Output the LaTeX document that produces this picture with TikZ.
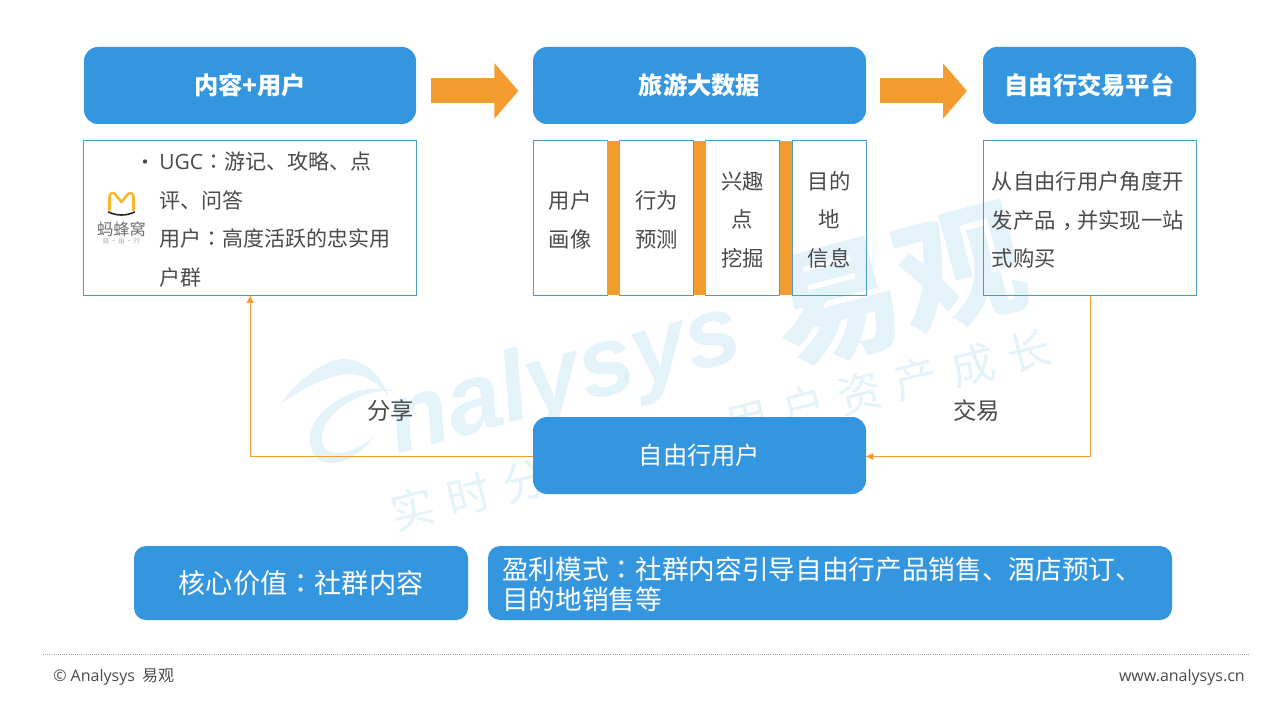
\documentclass[tikz,border=0pt]{standalone}
\usepackage{fontspec}
\setmainfont{Noto Sans CJK SC}
\newfontfamily\tcfont{Noto Sans CJK TC}
\newfontfamily\latinfoot{Open Sans}
\newfontfamily\wmfont{Liberation Sans}
\usetikzlibrary{arrows.meta}
\definecolor{bluefill}{HTML}{3596E0}
\definecolor{orangefill}{HTML}{F49C30}
\definecolor{edgeblue}{HTML}{4A9AC8}
\definecolor{bodytext}{HTML}{4A4A4A}
\definecolor{wm}{HTML}{E4F2FA}
\definecolor{logoyellow}{HTML}{F5B82E}
\newcommand{\cc}{{\tcfont ：}}
\newcommand{\dn}[1]{\raisebox{-0.75pt}{#1}}
\tikzset{
  sz/.style 2 args={minimum width=#1*0.75pt,minimum height=#2*0.75pt,inner sep=0pt,outer sep=0pt},
  hdr/.style={fill=bluefill,rounded corners=10.5pt,text=white,font=\bfseries\fontsize{18.2}{22}\selectfont},
  usr/.style={fill=bluefill,rounded corners=10.5pt,text=white,font=\fontsize{18.2}{22}\selectfont},
  bottombox/.style={fill=bluefill,rounded corners=9pt,text=white},
  frame/.style={draw=edgeblue,line width=0.75pt},
  celltext/.style={text=bodytext,inner sep=0pt,align=center,font=\fontsize{16}{28.9}\selectfont},
  bigarrow/.style={draw=orangefill,line width=18.75pt,-{Triangle[width=40.5pt,length=18pt]},shorten >=10.9pt,shorten <=11.2pt},
  strip/.style={draw=orangefill,line width=116pt},
  conn/.style={draw=orangefill,line width=0.75pt,-{Triangle[width=5pt,length=5.5pt]}},
  wmtext/.style={text=wm,inner sep=0pt},
}
\begin{document}
\begin{tikzpicture}[x=0.75pt,y=-0.75pt]
\useasboundingbox (0,0) rectangle (1280,720);
\fill[white] (0,0) rectangle (1280,720);
% watermark
\fill[wm] (280,404) .. controls (305,372) and (335,352) .. (355,361) .. controls (372,366) and (383,380) .. (388,396) .. controls (375,378) and (358,372) .. (340,375) .. controls (318,380) and (298,392) .. cycle;
\fill[wm] (393,391) .. controls (350,378) and (300,420) .. (311,447) .. controls (315,470) and (348,470) .. (375,436) .. controls (350,458) and (322,458) .. (322,440) .. controls (320,415) and (360,388) .. (393,391);
\node[wmtext,anchor=base,rotate=15.5,font=\wmfont\bfseries\itshape\fontsize{74}{80}\selectfont] (wma) at (572,406) {nalysys};
\node[wmtext,rotate=15,font=\bfseries\fontsize{96}{102}\selectfont] (wmb) at (899,287) {易观};
\node[wmtext,rotate=14,font=\fontsize{33}{38}\selectfont] (wmc) at (469,495) {实\hspace{10.5pt}时\hspace{10.5pt}分};
\node[wmtext,rotate=14,font=\fontsize{33}{38}\selectfont] (wmd) at (888,386) {用\hspace{10.5pt}户\hspace{10.5pt}资\hspace{10.5pt}产\hspace{10.5pt}成\hspace{10.5pt}长};
% header boxes
\node[hdr,sz={332}{77}] (h1) at (250,85.5) {\dn{内容+用户}};
\node[hdr,sz={333}{77}] (h2) at (699.5,85.5) {\dn{旅游大数据}};
\node[hdr,sz={213}{77}] (h3) at (1089.5,85.5) {\dn{自由行交易平台}};
\draw[bigarrow] ([yshift=-4.1pt]h1.east) -- ([yshift=-4.1pt]h2.west);
\draw[bigarrow,shorten >=12pt,shorten <=10.5pt] ([yshift=-4.1pt]h2.east) -- ([yshift=-4.1pt]h3.west);
% text boxes
\node[frame,sz={333}{155}] (t1) at (249.5,218) {};
\node[frame,sz={74}{155}] (b1) at (570,218) {};
\node[frame,sz={74}{155}] (b2) at (656.5,218) {};
\node[frame,sz={74}{155}] (b3) at (742.5,218) {};
\node[frame,sz={74}{155}] (b4) at (829,218) {};
\node[frame,sz={213}{155}] (t3) at (1089.5,218) {};
\draw[strip] (b1.east) -- (b2.west);
\draw[strip] (b2.east) -- (b3.west);
\draw[strip] (b3.east) -- (b4.west);
\node[celltext,yshift=-1.4pt] (b1t) at (b1.center) {用户\\画像};
\node[celltext,yshift=-1.4pt] (b2t) at (b2.center) {行为\\预测};
\node[celltext,yshift=-1.4pt] (b3t) at (b3.center) {兴趣\\点\\挖掘};
\node[celltext,yshift=-1.4pt] (b4t) at (b4.center) {目的\\地\\信息};
\node[celltext,anchor=west,align=left] (t3t) at (991.5,220) {从自由行用户角度开\\发产品{\hspace{0.3em}，\hspace{-0.3em}}并实现一站\\式购买};
% left box text
\node[anchor=west,inner sep=0pt,text=bodytext,font=\fontsize{15.75}{28.9}\selectfont,align=left] (t1txt) at (159,219.6) {{\latinfoot UGC}\cc 游记、攻略、点\\评、问答\\用户\cc 高度活跃的忠实用\\户群};
\fill[bodytext] (145,161.5) circle (2.2);
% logo
\draw[draw=logoyellow,line width=1.9pt,line join=round,line cap=round] (109.5,210) -- (109.5,197) .. controls (109.5,193) and (113,192) .. (115,194) -- (121.5,202) -- (128,194) .. controls (130,192) and (133.5,193) .. (133.5,197) -- (133.5,210);
\draw[black!85,line width=1.2pt,line cap=round] (108.5,212) .. controls (116,216) and (127,216) .. (134.5,212);
\node[text=bodytext!80,inner sep=0pt,font=\fontsize{12.2}{14}\selectfont] (logo1) at (121.5,229) {蚂蜂窝};
\node[text=gray!70,inner sep=0pt,font=\fontsize{5}{6}\selectfont] (logo2) at (121.5,241) {自\,·\,由\,·\,行};
% user box and connectors
\node[usr,sz={333}{77}] (u) at (699.5,455.5) {自由行用户};
\draw[conn] ([yshift=-0.75pt]u.west) -| ([xshift=0.5pt]t1.south);
\draw[conn] ([xshift=0.4pt]t3.south) |- ([yshift=-0.75pt]u.east);
\node[text=bodytext,inner sep=0pt,font=\fontsize{17.5}{20}\selectfont] (l1) at (390.5,411) {分享};
\node[text=bodytext,inner sep=0pt,font=\fontsize{17.5}{20}\selectfont] (l2) at (976.5,411) {交易};
% bottom boxes
\node[bottombox,sz={334}{74},font=\fontsize{20.4}{24}\selectfont] (c1) at (301,583) {\dn{核心价值\cc 社群内容}};
\node[bottombox,sz={684}{74}] (c2) at (830,583) {};
\node[text=white,inner sep=0pt,anchor=west,align=left,font=\fontsize{20}{22.5}\selectfont] (c2t) at (502,584) {盈利模式\cc 社群内容引导自由行产品销售、酒店预订、\\目的地销售等};
% footer
\draw[gray!70,line width=0.6pt,densely dotted] (43,654) -- (1250,654);
\node[anchor=west,text=bodytext,inner sep=0pt,font=\fontsize{12}{14}\selectfont] (f1) at (53,677) {{\latinfoot © Analysys}\ \ 易观};
\node[anchor=east,text=bodytext,inner sep=0pt,font=\latinfoot\fontsize{12}{14}\selectfont] (f2) at (1245,677) {www.analysys.cn};
\end{tikzpicture}
\end{document}
